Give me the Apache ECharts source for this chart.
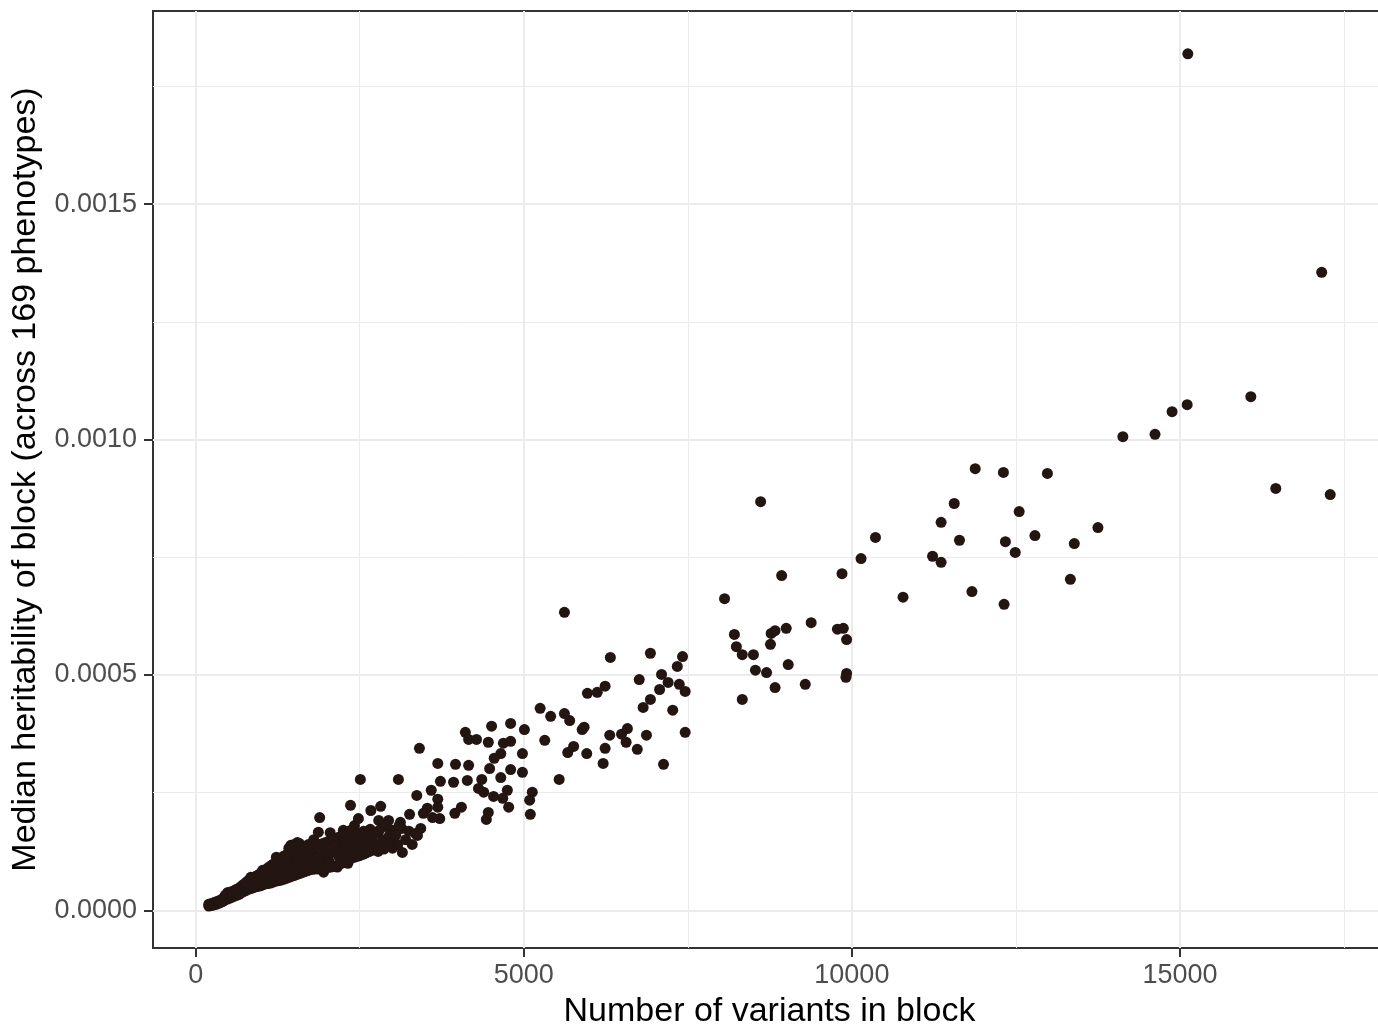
<!DOCTYPE html>
<html>
<head>
<meta charset="utf-8">
<title>Median heritability vs block size</title>
<script src="https://cdn.jsdelivr.net/npm/echarts@6/dist/echarts.min.js"></script>
<style>
  html, body { margin: 0; padding: 0; background: #ffffff; }
  #chart { width: 1378px; height: 1029px; }
</style>
</head>
<body>
<div id="chart"></div>
<script>
// Number of variants in each LD block
const blockVariants = [
  15120, 17160, 16080, 15110, 14880, 14620, 14130, 16460, 17290, 12980,
  12310, 11880, 12550, 12340, 12490, 12790, 13390, 13750, 13330, 12320,
  11830, 11560, 11360, 11640, 11230, 11360, 10780, 10360, 10140, 9850,
  8610, 8930, 8060, 8210, 8240, 8330, 8500, 8770, 8830, 9000,
  8760, 9380, 9780, 9870, 9920, 8530, 8700, 9030, 8830, 9290,
  9920, 9910, 8330, 5620, 6320, 6930, 7420, 7340, 7100, 7200,
  7370, 7460, 6760, 7070, 6930, 6820, 7270, 7460, 6240, 6120,
  5970, 5250, 5410, 5620, 5700, 5890, 5920, 5320, 6310, 6490,
  6580, 6560, 6870, 6240, 6730, 5760, 5670, 5960, 6210, 7130,
  5540, 4510, 4800, 5010, 4110, 4160, 4280, 4460, 4690, 4800,
  3410, 4980, 4650, 4550, 3690, 3960, 4160, 4480, 4800, 4980,
  4650, 4360, 2510, 3090, 3730, 3930, 4140, 4310, 4390, 4540,
  4750, 4680, 4770, 5130, 5090, 5100, 4460, 4430, 3950, 4050,
  3590, 3690, 3370, 3720, 3530, 3470, 3260, 3350, 3430, 3140,
  3120, 2360, 2670, 2820, 2480, 2420, 2790, 2940, 3000, 2800,
  2670, 2560, 2360, 2210, 2160, 2820, 3000, 3150, 2560, 2320,
  3690, 3610, 3380, 2940, 2320, 2160, 1950, 1890, 1870, 1550,
  1450, 1230, 1020, 840, 490, 230, 2050, 2250,
  // small blocks, dense lower-left band
  200, 200, 260, 260, 320, 320, 380, 380,
  450, 450, 450, 520, 520, 520, 590, 590, 590,
  660, 660, 660, 730, 730, 730, 800, 800, 800,
  880, 880, 880, 950, 950, 950, 1020, 1020, 1020,
  1100, 1100, 1100, 1180, 1180, 1180, 1260, 1260, 1260,
  1340, 1340, 1340, 1420, 1420, 1420, 1420, 1500, 1500, 1500, 1500,
  1580, 1580, 1580, 1580, 1660, 1660, 1660, 1740, 1740, 1740,
  1820, 1820, 1820, 1900, 1900, 1900, 1980, 1980, 1980,
  2060, 2060, 2060, 2140, 2140, 2140, 2220, 2220, 2220,
  2300, 2300, 2300, 2400, 2400, 2400, 2500, 2500, 2600, 2600, 2700, 2700,
  230, 230, 290, 290, 350, 350, 415, 415,
  485, 485, 485, 555, 555, 555, 625, 625, 625,
  695, 695, 695, 765, 765, 765, 840, 840, 840,
  915, 915, 915, 985, 985, 985, 1060, 1060, 1060,
  1140, 1140, 1140, 1220, 1220, 1220, 1300, 1300, 1300,
  1380, 1380, 1380, 1460, 1460, 1460, 1460, 1540, 1540, 1540, 1540,
  1620, 1620, 1620, 1700, 1700, 1700, 1780, 1780, 1780,
  1860, 1860, 1860, 1940, 1940, 1940, 2020, 2020, 2020,
  2100, 2100, 2100, 2180, 2180, 2180, 2260, 2260, 2260,
  2350, 2350, 2350, 2450, 2450, 2550, 2550, 2650, 2650,
  2030, 2110, 2190, 2270, 2330, 2380, 2430, 2470, 2520, 2560,
  2620, 2660, 2720, 2760, 2780, 2850, 2870, 2900, 2950, 2980,
  3050, 3080, 3100, 3200, 3250, 3300, 1960, 1880, 1800, 1720,
  1640, 1560, 1480, 1400, 1320, 1240
];

// Median heritability of each block across 169 phenotypes
const medianHeritability = [
  0.001819, 0.001355, 0.001091, 0.001074, 0.001059, 0.001011, 0.001006, 0.000896, 0.000883, 0.000928,
  0.000930, 0.000938, 0.000847, 0.000783, 0.000760, 0.000796, 0.000779, 0.000813, 0.000703, 0.000650,
  0.000677, 0.000864, 0.000824, 0.000786, 0.000752, 0.000739, 0.000665, 0.000792, 0.000747, 0.000715,
  0.000868, 0.000711, 0.000662, 0.000586, 0.000560, 0.000543, 0.000543, 0.000588, 0.000594, 0.000599,
  0.000565, 0.000611, 0.000597, 0.000599, 0.000575, 0.000510, 0.000505, 0.000522, 0.000473, 0.000480,
  0.000503, 0.000495, 0.000448, 0.000633, 0.000537, 0.000546, 0.000539, 0.000518, 0.000501, 0.000484,
  0.000480, 0.000465, 0.000490, 0.000469, 0.000448, 0.000431, 0.000425, 0.000378, 0.000476, 0.000463,
  0.000461, 0.000429, 0.000412, 0.000418, 0.000403, 0.000384, 0.000389, 0.000361, 0.000372, 0.000374,
  0.000386, 0.000357, 0.000372, 0.000344, 0.000342, 0.000348, 0.000335, 0.000333, 0.000312, 0.000310,
  0.000278, 0.000391, 0.000397, 0.000384, 0.000378, 0.000363, 0.000363, 0.000357, 0.000355, 0.000359,
  0.000344, 0.000333, 0.000333, 0.000323, 0.000312, 0.000310, 0.000308, 0.000301, 0.000299, 0.000293,
  0.000282, 0.000278, 0.000278, 0.000278, 0.000274, 0.000272, 0.000276, 0.000259, 0.000251, 0.000242,
  0.000255, 0.000238, 0.000219, 0.000251, 0.000234, 0.000204, 0.000208, 0.000193, 0.000206, 0.000219,
  0.000255, 0.000236, 0.000244, 0.000195, 0.000217, 0.000206, 0.000204, 0.000163, 0.000174, 0.000174,
  0.000187, 0.000223, 0.000212, 0.000221, 0.000195, 0.000180, 0.000191, 0.000191, 0.000170, 0.000170,
  0.000159, 0.000163, 0.000153, 0.000149, 0.000134, 0.000134, 0.000132, 0.000123, 0.000121, 0.000142,
  0.000219, 0.000197, 0.000159, 0.000138, 0.000100, 0.000092, 0.000081, 0.000197, 0.000166, 0.000144,
  0.000138, 0.000113, 0.000085, 0.000070, 0.000038, 0.000011, 0.000165, 0.000170,
  // small blocks, dense lower-left band
  0.000009, 0.000013, 0.000011, 0.000015, 0.000013, 0.000018, 0.000017, 0.000022,
  0.000022, 0.000028, 0.000032, 0.000026, 0.000031, 0.000037, 0.000030, 0.000036, 0.000042,
  0.000034, 0.000041, 0.000047, 0.000040, 0.000047, 0.000055, 0.000045, 0.000053, 0.000063,
  0.000048, 0.000057, 0.000070, 0.000051, 0.000062, 0.000075, 0.000054, 0.000066, 0.000080,
  0.000057, 0.000072, 0.000090, 0.000060, 0.000076, 0.000098, 0.000063, 0.000082, 0.000104,
  0.000066, 0.000088, 0.000115, 0.000070, 0.000094, 0.000122, 0.000132, 0.000074, 0.000098, 0.000126, 0.000140,
  0.000078, 0.000102, 0.000130, 0.000142, 0.000082, 0.000104, 0.000122, 0.000086, 0.000108, 0.000126,
  0.000088, 0.000112, 0.000134, 0.000088, 0.000114, 0.000140, 0.000090, 0.000118, 0.000144,
  0.000092, 0.000122, 0.000148, 0.000094, 0.000126, 0.000152, 0.000100, 0.000130, 0.000158,
  0.000106, 0.000136, 0.000166, 0.000112, 0.000142, 0.000172, 0.000116, 0.000148, 0.000122, 0.000152, 0.000128, 0.000158,
  0.000010, 0.000014, 0.000012, 0.000017, 0.000015, 0.000020, 0.000019, 0.000025,
  0.000024, 0.000030, 0.000035, 0.000028, 0.000034, 0.000040, 0.000032, 0.000039, 0.000045,
  0.000037, 0.000044, 0.000051, 0.000042, 0.000050, 0.000059, 0.000046, 0.000055, 0.000066,
  0.000050, 0.000060, 0.000072, 0.000052, 0.000064, 0.000078, 0.000056, 0.000069, 0.000085,
  0.000058, 0.000074, 0.000094, 0.000062, 0.000079, 0.000100, 0.000064, 0.000085, 0.000110,
  0.000068, 0.000091, 0.000118, 0.000072, 0.000096, 0.000112, 0.000136, 0.000076, 0.000100, 0.000120, 0.000141,
  0.000080, 0.000103, 0.000126, 0.000084, 0.000106, 0.000120, 0.000087, 0.000110, 0.000130,
  0.000088, 0.000113, 0.000137, 0.000089, 0.000116, 0.000142, 0.000091, 0.000120, 0.000146,
  0.000093, 0.000124, 0.000150, 0.000097, 0.000128, 0.000155, 0.000103, 0.000133, 0.000162,
  0.000109, 0.000139, 0.000169, 0.000114, 0.000145, 0.000119, 0.000150, 0.000125, 0.000155,
  0.000105, 0.000137, 0.000112, 0.000147, 0.000120, 0.000157, 0.000127, 0.000162, 0.000133, 0.000168,
  0.000137, 0.000172, 0.000142, 0.000165, 0.000125, 0.000150, 0.000130, 0.000178, 0.000158, 0.000145,
  0.000160, 0.000140, 0.000180, 0.000150, 0.000168, 0.000140, 0.000128, 0.000100, 0.000150, 0.000140,
  0.000090, 0.000115, 0.000085, 0.000105, 0.000076, 0.000092
];

// Tick positions
const xMajorTicks = [0, 5000, 10000, 15000];
const xMinorTicks = [2500, 7500, 12500, 17500];
const yMajorTicks = [0, 0.0005, 0.0010, 0.0015];
const yMinorTicks = [0.00025, 0.00075, 0.00125, 0.00175];

const points = blockVariants.map((v, i) => [v, medianHeritability[i]]);

const X_MIN = -650, X_MAX = 18140;
const Y_MIN = -0.00008, Y_MAX = 0.00191;

const tickColor = '#333333';
const labelColor = '#4d4d4d';
const gridMajor = '#ebebeb';
const fontFamily = '"Liberation Sans", Arial, Helvetica, sans-serif';

const chart = echarts.init(document.getElementById('chart'), null, { renderer: 'canvas' });

chart.setOption({
  backgroundColor: '#ffffff',
  animation: false,
  grid: {
    left: 153, top: 11, right: -8, bottom: 81,
    outerBoundsMode: 'none',
    containLabel: false,
    show: true,
    backgroundColor: '#ffffff',
    borderColor: tickColor,
    borderWidth: 2
  },
  xAxis: [
    {
      type: 'value',
      min: X_MIN, max: X_MAX,
      name: 'Number of variants in block',
      nameLocation: 'middle',
      nameGap: 47,
      nameTextStyle: { fontFamily, fontSize: 34, color: '#000000' },
      axisLine: { show: false, onZero: false },
      axisTick: { show: true, length: 9, customValues: xMajorTicks, lineStyle: { color: tickColor, width: 2 } },
      axisLabel: {
        customValues: xMajorTicks,
        margin: 14, fontFamily, fontSize: 27, color: labelColor,
        formatter: v => String(v)
      },
      splitLine: { show: true, lineStyle: { color: gridMajor, width: 2 } },
      z: 1
    },
    {
      type: 'value',
      min: X_MIN, max: X_MAX,
      axisLine: { show: false, onZero: false },
      axisTick: { show: false, customValues: xMinorTicks },
      axisLabel: { show: false },
      splitLine: { show: true, lineStyle: { color: gridMajor, width: 1 } },
      z: 0
    }
  ],
  yAxis: [
    {
      type: 'value',
      min: Y_MIN, max: Y_MAX,
      name: 'Median heritability of block (across 169 phenotypes)',
      nameLocation: 'middle',
      nameGap: 110,
      nameTextStyle: { fontFamily, fontSize: 34, color: '#000000' },
      axisLine: { show: false, onZero: false },
      axisTick: { show: true, length: 9, customValues: yMajorTicks, lineStyle: { color: tickColor, width: 2 } },
      axisLabel: {
        customValues: yMajorTicks,
        margin: 16, fontFamily, fontSize: 27, color: labelColor,
        formatter: v => v.toFixed(4)
      },
      splitLine: { show: true, lineStyle: { color: gridMajor, width: 2 } },
      z: 1
    },
    {
      type: 'value',
      min: Y_MIN, max: Y_MAX,
      axisLine: { show: false, onZero: false },
      axisTick: { show: false, customValues: yMinorTicks },
      axisLabel: { show: false },
      splitLine: { show: true, lineStyle: { color: gridMajor, width: 1 } },
      z: 0
    }
  ],
  series: [
    {
      type: 'scatter',
      xAxisIndex: 0,
      yAxisIndex: 0,
      data: points,
      symbol: 'circle',
      symbolSize: 11,
      itemStyle: { color: '#231512', opacity: 1 },
      emphasis: { disabled: true },
      z: 3
    }
  ]
});
</script>
</body>
</html>
